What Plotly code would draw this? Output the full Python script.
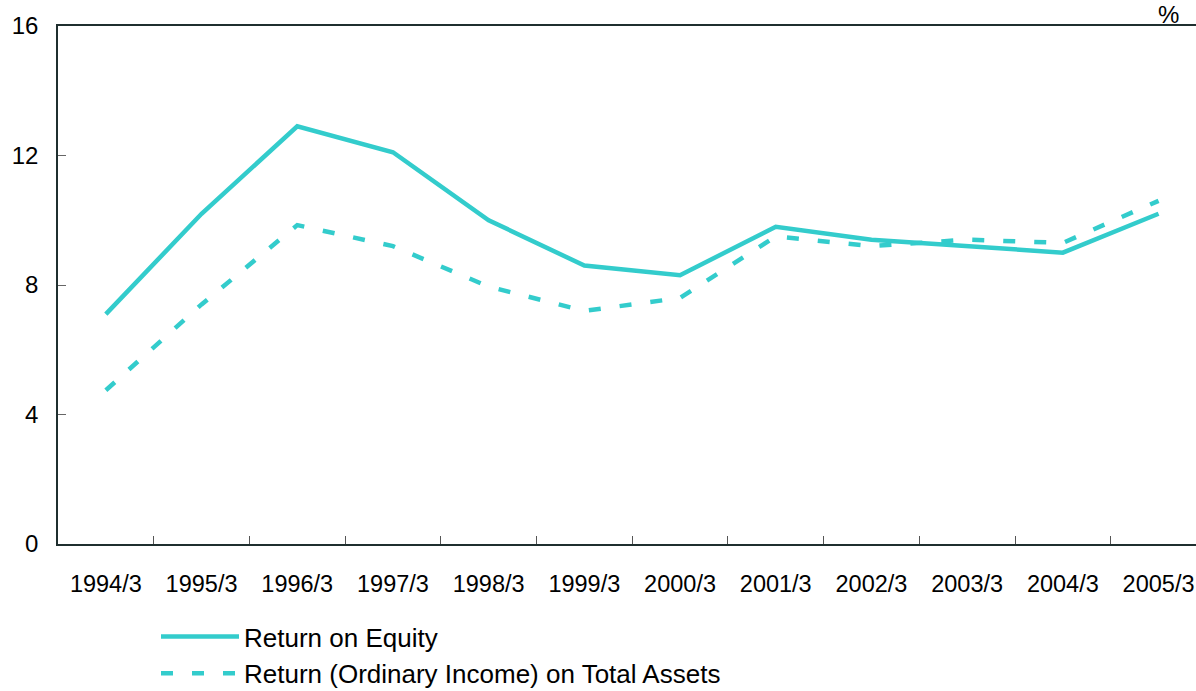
import plotly.graph_objects as go

categories = ["1994/3", "1995/3", "1996/3", "1997/3", "1998/3", "1999/3",
              "2000/3", "2001/3", "2002/3", "2003/3", "2004/3", "2005/3"]
roe = [7.1, 10.2, 12.9, 12.1, 10.0, 8.6, 8.3, 9.8, 9.4, 9.2, 9.0, 10.2]
roa = [4.75, 7.4, 9.85, 9.2, 7.95, 7.2, 7.6, 9.5, 9.2, 9.4, 9.3, 10.6]
y_ticks = [0, 4, 8, 12, 16]

color = "rgb(51,204,204)"
W, H = 1196, 691
L, T, B = 58, 26, 147
plot_w = W - L
plot_h = H - T - B
cat_px = 95.7

fig = go.Figure()
fig.add_trace(go.Scatter(x=categories, y=roe, mode="lines", name="Return on Equity",
                         line=dict(color=color, width=4.5)))
fig.add_trace(go.Scatter(x=categories, y=roa, mode="lines",
                         name="Return (Ordinary Income) on Total Assets",
                         line=dict(color=color, width=4.5, dash="12px,19px")))

fig.update_layout(
    width=W, height=H,
    margin=dict(l=L, r=0, t=T, b=B, pad=0, autoexpand=False),
    paper_bgcolor="white", plot_bgcolor="white",
    font=dict(family="Liberation Sans, Arial, sans-serif", size=23, color="black"),
    showlegend=True,
    legend=dict(x=(156 - L) / plot_w, xanchor="left", y=-(613 - (T + plot_h)) / plot_h,
                yanchor="top",
                font=dict(size=26, color="black"), itemwidth=78,
                bgcolor="rgba(0,0,0,0)", tracegroupgap=0),
    xaxis=dict(type="category", range=[-0.5, -0.5 + plot_w / cat_px],
               showline=True, linecolor="#1f2f2f", linewidth=1.5, mirror=True,
               ticks="inside", ticklen=8, tickcolor="#555", tickson="boundaries",
               showgrid=False, zeroline=False, ticklabelstandoff=18, automargin=False,
               tickfont=dict(size=23.5)),
    yaxis=dict(range=[0, 16], tickvals=y_ticks, showline=True, linecolor="#1f2f2f",
               linewidth=1.5, ticks="inside", ticklen=8, tickcolor="#666",
               showgrid=False, zeroline=False, ticklabelstandoff=13, automargin=False,
               tickfont=dict(size=24)),
    annotations=[dict(text="%", xref="paper", yref="paper", x=(1168 - L) / plot_w,
                      y=1.0, yanchor="bottom", xanchor="center", showarrow=False,
                      yshift=-4, font=dict(size=24, color="black"))],
)

fig.write_html("out.html", config={"displayModeBar": False},
               post_script="document.body.style.margin='0';document.body.style.overflow='hidden';")
